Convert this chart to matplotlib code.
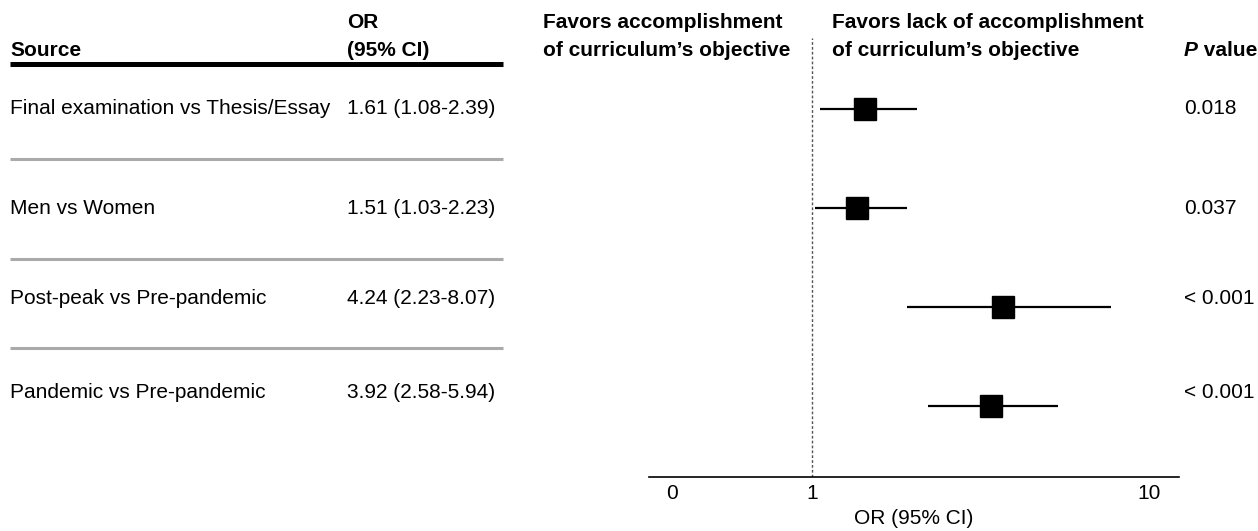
import numpy as np
import matplotlib
matplotlib.use("Agg")
import matplotlib.pyplot as plt

plt.rcParams['font.family'] = ['Liberation Sans', 'DejaVu Sans']

# ---- data ----
sources = ["Final examination vs Thesis/Essay", "Men vs Women",
           "Post-peak vs Pre-pandemic", "Pandemic vs Pre-pandemic"]
or_vals = [1.61, 1.51, 4.24, 3.92]
ci_low = [1.08, 1.03, 2.23, 2.58]
ci_high = [2.39, 2.23, 8.07, 5.94]
p_values = ["0.018", "0.037", "< 0.001", "< 0.001"]
xticks = [0, 1, 10]
xtick_labels = ["0", "1", "10"]

or_labels = [f"{v:.2f} ({l:.2f}-{h:.2f})" for v, l, h in zip(or_vals, ci_low, ci_high)]

# ---- layout (pixels) ----
W, H = 1258, 531
FS = 15
fig = plt.figure(figsize=(W / 100, H / 100), dpi=100)

ov = fig.add_axes([0, 0, 1, 1], zorder=-1)
ov.set_xlim(0, W)
ov.set_ylim(H, 0)
ov.axis('off')

ax_left, ax_right, ax_bottom = 649, 1179, 477
ax = fig.add_axes([ax_left / W, 1 - ax_bottom / H, (ax_right - ax_left) / W, ax_bottom / H])
ax.patch.set_alpha(0)

# rows: marker centres at 109 + 99*i px
rows = np.arange(len(sources))
ax.set_ylim((ax_bottom - 109) / 99, -109 / 99)

C = 0.95
ax.set_xscale('function', functions=(lambda x: np.log10(x + C), lambda y: 10 ** y - C))
ax.set_xlim(-0.104, 11.83)

ax.axvline(1, ymin=0, ymax=(ax_bottom - 38) / ax_bottom, color='#555555', lw=1.0,
           ls=(0, (2, 1.5)), zorder=1)
ax.hlines(rows, ci_low, ci_high, color='black', lw=1.6, zorder=2)
ax.plot(or_vals, rows, 's', ms=15.5, color='black', zorder=3)

for s in ['top', 'right', 'left']:
    ax.spines[s].set_visible(False)
ax.spines['bottom'].set_linewidth(1.2)
ax.set_yticks([])
ax.set_xticks(xticks)
ax.set_xticklabels(xtick_labels, fontsize=FS)
ax.tick_params(axis='x', length=0, pad=5)
ax.set_xlabel("OR (95% CI)", fontsize=FS, labelpad=4)

# ---- header ----
ov.text(10, 50, "Source", fontsize=FS, fontweight='bold', va='center', ha='left')
ov.text(347, 23, "OR", fontsize=FS, fontweight='bold', va='center', ha='left')
ov.text(347, 50, "(95% CI)", fontsize=FS, fontweight='bold', va='center', ha='left')
ov.text(543, 23, "Favors accomplishment", fontsize=FS, fontweight='bold', va='center', ha='left')
ov.text(543, 50, "of curriculum\u2019s objective", fontsize=FS, fontweight='bold', va='center', ha='left')
ov.text(832, 23, "Favors lack of accomplishment", fontsize=FS, fontweight='bold', va='center', ha='left')
ov.text(832, 50, "of curriculum\u2019s objective", fontsize=FS, fontweight='bold', va='center', ha='left')
tP = ov.text(1184, 50, "P", fontsize=FS, fontweight='bold', fontstyle='italic', va='center', ha='left')
ov.annotate(" value", xy=(1, 0), xycoords=tP, fontsize=FS, fontweight='bold', va='bottom', ha='left')

ov.plot([10, 503], [64, 64], color='black', lw=3.6, solid_capstyle='butt')

# ---- rows of text ----
text_y = [108, 209, 298, 393]
sep_y = [159, 259, 348]
for y, src, orl, p in zip(text_y, sources, or_labels, p_values):
    ov.text(10, y, src, fontsize=FS, va='center', ha='left')
    ov.text(347, y, orl, fontsize=FS, va='center', ha='left')
    ov.text(1184, y, p, fontsize=FS, va='center', ha='left')
for y in sep_y:
    ov.plot([10, 503], [y, y], color='#aaaaaa', lw=2.2, solid_capstyle='butt')

fig.savefig("out.png", dpi=100)
